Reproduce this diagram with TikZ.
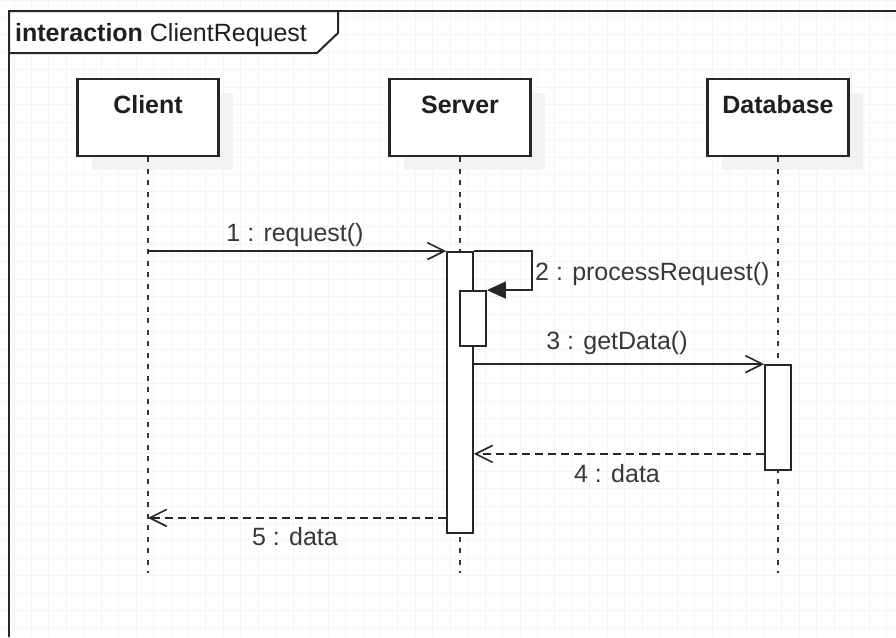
\documentclass[tikz,border=0pt]{standalone}
\usepackage{fontspec}
\setmainfont{Liberation Sans}
\usetikzlibrary{arrows.meta,shadows}
\begin{document}
\begin{tikzpicture}[x=1pt,y=-1pt,
  gridline/.style={draw=black!4,line width=1pt},
  frameline/.style={draw=black!85,line width=2pt},
  lifebox/.style={draw=black!85,line width=2.2pt,fill=white,minimum width=141pt,minimum height=77pt,inner sep=0pt,
    drop shadow={shadow xshift=14pt,shadow yshift=-14pt,fill=black!5,opacity=1}},
  actbar/.style={draw=black!85,line width=1.8pt,fill=white,minimum width=26pt,inner sep=0pt},
  lifeline/.style={draw=black!80,line width=1.6pt,dash pattern=on 5pt off 6.5pt},
  msg/.style={draw=black!85,line width=1.6pt,-{Straight Barb[length=17pt,width=17pt]}},
  ret/.style={msg,dash pattern=on 8pt off 5pt},
  selfmsg/.style={draw=black!85,line width=1.6pt,-{Triangle[length=19pt,width=17pt]}},
  title/.style={font=\fontsize{25}{30}\selectfont\bfseries,text=black!88,anchor=base,inner sep=0pt},
  lbl/.style={font=\fontsize{25}{30}\selectfont,text=black!78,anchor=base,inner sep=0pt},
]
\useasboundingbox (0,0) rectangle (896,637);
% background grid
\fill[white] (0,0) rectangle (896,637);
\foreach \i in {0,...,50} \draw[gridline] ({14+17.45*\i},0) -- ({14+17.45*\i},637);
\foreach \j in {0,...,36} \draw[gridline] (0,{17.45*\j}) -- (896,{17.45*\j});
% frame
\draw[frameline] (9,637) -- (9,11) -- (896,11);
\draw[frameline,fill=white] (9,11) -- (338,11) -- (338,33) -- (317,53) -- (9,53) -- cycle;
\node[lbl,anchor=base west,text=black!88] (hdr) at (15,41) {\textbf{interaction} ClientRequest};
% lifeline heads
\node[lifebox] (client) at (148,117.5) {};
\node[lifebox] (server) at (460,117.5) {};
\node[lifebox] (db) at (778,117.5) {};
\node[title] (clientT) at (148,113) {Client};
\node[title] (serverT) at (460,113) {Server};
\node[title] (dbT) at (778,113) {Database};
% lifelines
\coordinate (clientE) at (148,573);
\coordinate (serverE) at (460,573);
\coordinate (dbE) at (778,573);
\draw[lifeline] (client.south) -- (clientE);
\draw[lifeline] (server.south) -- (serverE);
\draw[lifeline] (db.south) -- (dbE);
% activation bars
\node[actbar,minimum height=281pt] (sbar) at (460,392.5) {};
\node[actbar,minimum height=55pt] (nbar) at (473,318.5) {};
\node[actbar,minimum height=105pt] (dbar) at (778,417.5) {};
% messages
\draw[msg] (client.south |- sbar.north west) -- (sbar.north west);
\draw[selfmsg] (sbar.north east) -- ++(58,0) |- (nbar.north east);
\draw[msg] (sbar.east |- dbar.north west) -- (dbar.north west);
\path (dbar.south west) ++(0,-17) coordinate (m4s);
\draw[ret] (m4s) -- (m4s -| sbar.east);
\path (sbar.south west) ++(0,-16) coordinate (m5s);
\draw[ret] (m5s) -- (m5s -| client.south);
% labels
\node[lbl] (l1) at (295,241.5) {1 : request()};
\node[lbl,anchor=base west] (l2) at (535,280) {2 : processRequest()};
\node[lbl] (l3) at (617,349) {3 : getData()};
\node[lbl] (l4) at (617,482) {4 : data};
\node[lbl] (l5) at (295,545) {5 : data};
\end{tikzpicture}
\end{document}
